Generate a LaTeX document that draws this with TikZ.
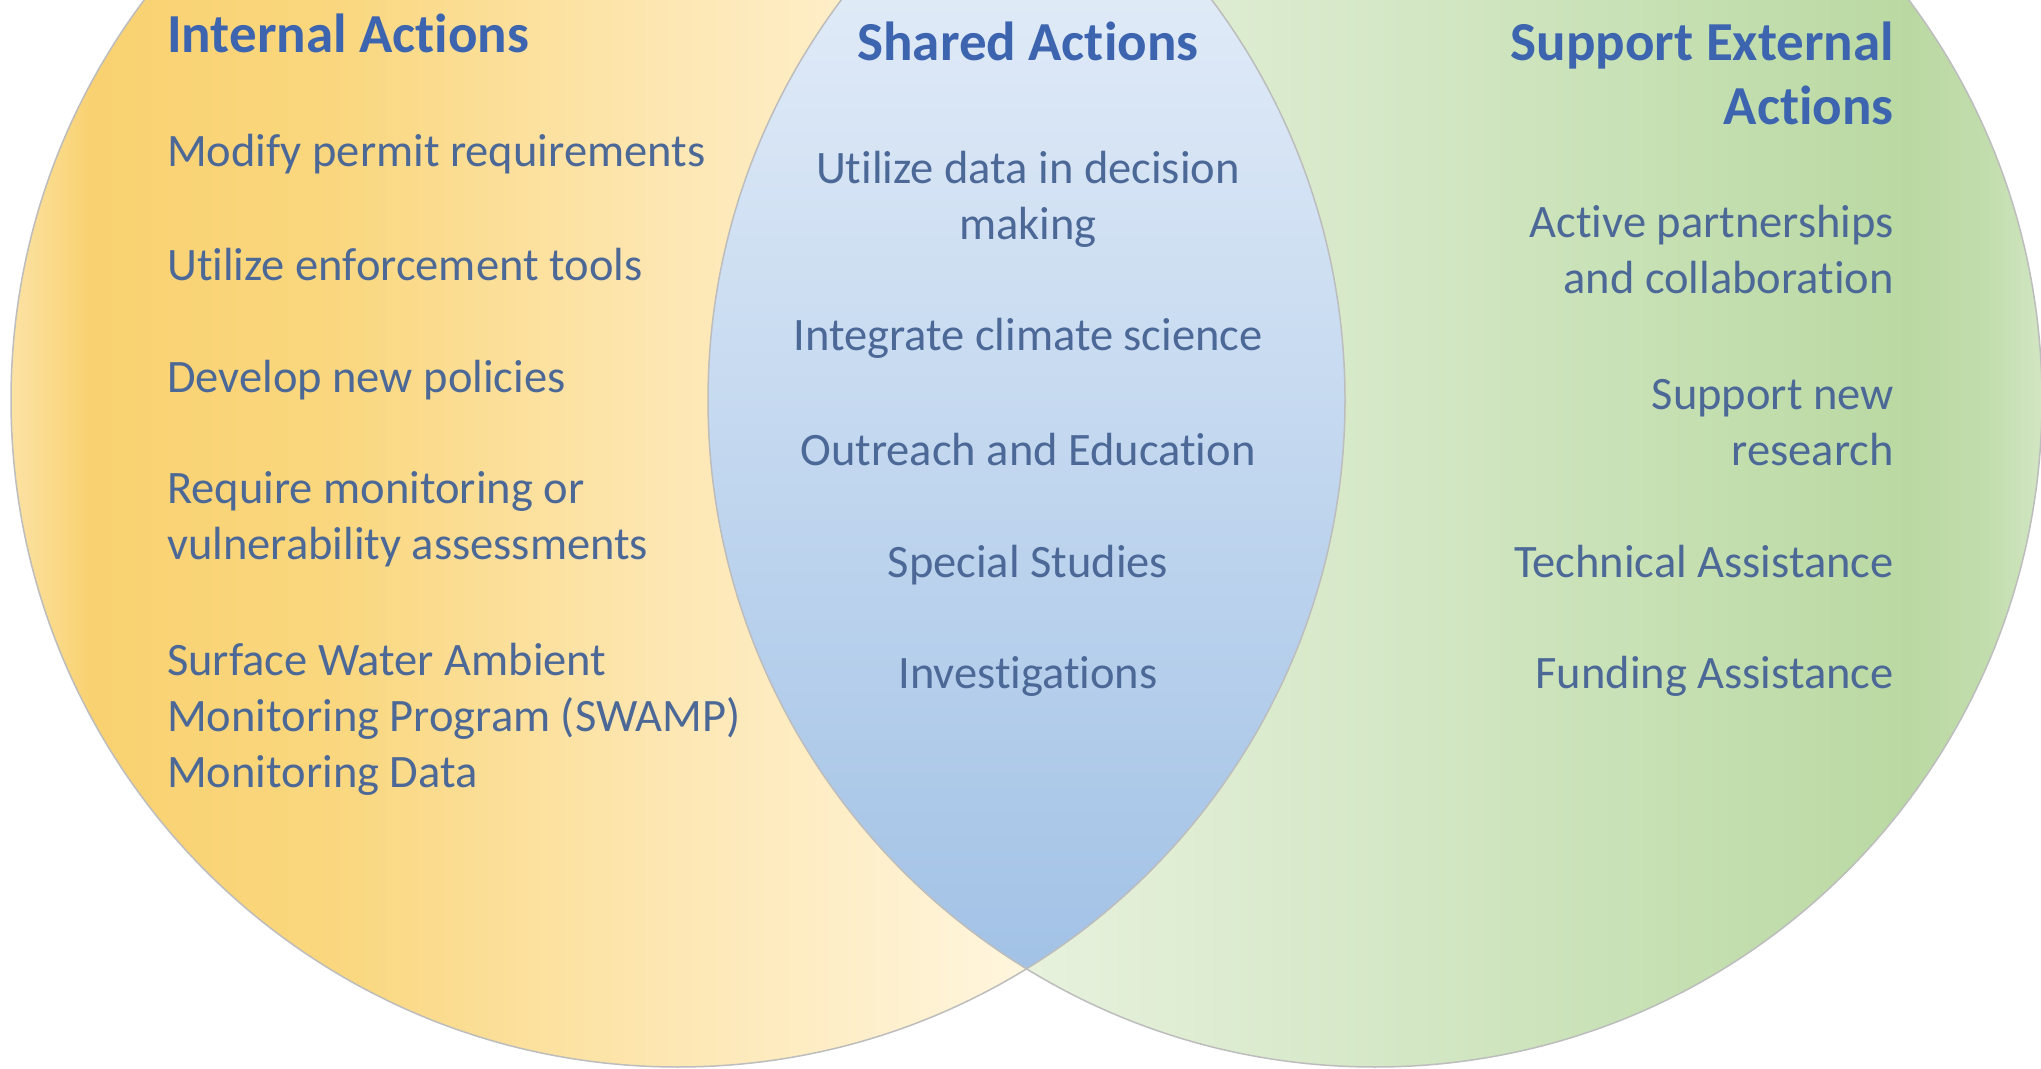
\documentclass[tikz,border=0pt]{standalone}
\usepackage{fontspec}
\setmainfont{Carlito}[Ligatures=NoCommon]
\definecolor{oA}{HTML}{FBE2A4}
\definecolor{oB}{HTML}{F9D170}
\definecolor{oC}{HTML}{FAD77E}
\definecolor{oD}{HTML}{FDE7B4}
\definecolor{oE}{HTML}{FFF6DE}
\definecolor{oF}{HTML}{FFFBEE}
\definecolor{gA}{HTML}{F7FAF1}
\definecolor{gB}{HTML}{EAF3E0}
\definecolor{gC}{HTML}{D5E8C7}
\definecolor{gD}{HTML}{BAD9A2}
\definecolor{gE}{HTML}{C2DDAD}
\definecolor{gF}{HTML}{D2E6C3}
\definecolor{lensT}{HTML}{EAF1FA}
\definecolor{lensB}{HTML}{A2C2E6}
\definecolor{edgec}{HTML}{BDBDBD}
\definecolor{bodyc}{HTML}{4B6897}
\definecolor{headc}{HTML}{3D64AE}
\pgfdeclarehorizontalshading{orangesh}{100bp}{color(0bp)=(oA); color(25bp)=(oA); color(28bp)=(oB); color(37bp)=(oC); color(50bp)=(oD); color(63bp)=(oE); color(75bp)=(oF); color(100bp)=(oF)}
\pgfdeclarehorizontalshading{greensh}{100bp}{color(0bp)=(gA); color(25bp)=(gA); color(35bp)=(gB); color(50bp)=(gC); color(70bp)=(gD); color(73bp)=(gE); color(75bp)=(gF); color(100bp)=(gF)}
\tikzset{
  body/.style={text=bodyc, font=\fontsize{46.5}{56}\selectfont, inner sep=0pt},
  head/.style={text=headc, font=\bfseries\fontsize{55}{64}\selectfont, inner sep=0pt},
  rim/.style={draw=edgec, line width=1.5pt}
}
\begin{document}
\begin{tikzpicture}[x=1pt,y=1pt]
\useasboundingbox (0,0) rectangle (2041,1068);
\fill[white] (0,0) rectangle (2041,1068);
% circles
\begin{scope}
\clip (0,0) rectangle (2041,1068);
\fill[shading=orangesh] (678,668) circle (667);
\fill[shading=greensh] (1375,668) circle (667);
\begin{scope}
\clip (678,668) circle (667);
\clip (1375,668) circle (667);
\fill[top color=lensT, bottom color=lensB] (706,99) rectangle (1347,1237);
\end{scope}
\draw[rim] (678,668) circle (667);
\draw[rim] (1375,668) circle (667);
\end{scope}
% left texts (base anchor = baseline of last line)
\node[head, anchor=base west] (tint) at (167,1015) {Internal Actions};
\node[body, anchor=base west, align=left] (tint1) at (167,901) {Modify permit requirements};
\node[body, anchor=base west, align=left] (tint2) at (167,787) {Utilize enforcement tools};
\node[body, anchor=base west, align=left] (tint3) at (167,675) {Develop new policies};
\node[body, anchor=base west, align=left] (tint4) at (167,508) {Require monitoring or\\vulnerability assessments};
\node[body, anchor=base west, align=left] (tint5) at (167,280) {Surface Water Ambient\\Monitoring Program (SWAMP)\\Monitoring Data};
% centre texts
\node[head, anchor=base] (tsh) at (1028,1007) {Shared Actions};
\node[body, anchor=base, align=center] (tsh1) at (1028,828) {Utilize data in decision\\making};
\node[body, anchor=base, align=center] (tsh2) at (1028,717) {Integrate climate science};
\node[body, anchor=base, align=center] (tsh3) at (1028,602) {Outreach and Education};
\node[body, anchor=base, align=center] (tsh4) at (1028,490) {Special Studies};
\node[body, anchor=base, align=center] (tsh5) at (1028,379) {Investigations};
% right texts
\node[head, anchor=base east, align=right] (text) at (1894,943) {Support External\\Actions};
\node[body, anchor=base east, align=right] (text1) at (1894,774) {Active partnerships\\and collaboration};
\node[body, anchor=base east, align=right] (text2) at (1894,602) {Support new\\research};
\node[body, anchor=base east, align=right] (text3) at (1894,490) {Technical Assistance};
\node[body, anchor=base east, align=right] (text4) at (1894,379) {Funding Assistance};
\end{tikzpicture}
\end{document}
